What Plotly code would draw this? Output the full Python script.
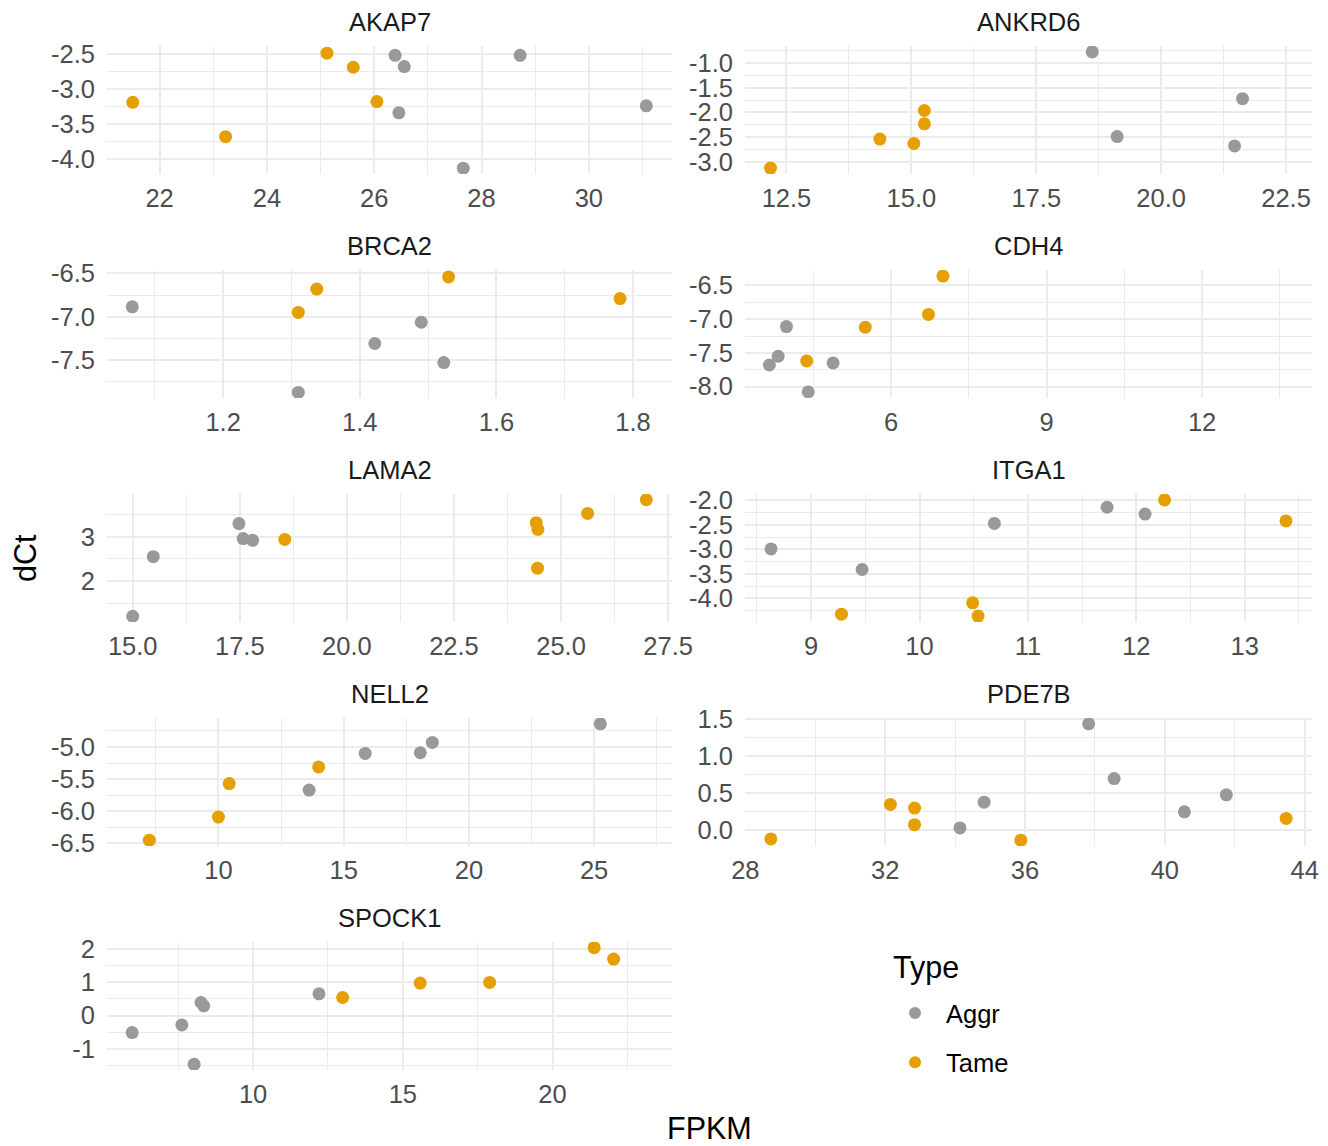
import plotly.graph_objects as go

# FPKM vs dCt for nine genes, coloured by animal type
genes = ["AKAP7", "ANKRD6", "BRCA2", "CDH4", "LAMA2", "ITGA1", "NELL2", "PDE7B", "SPOCK1"]

akap7_fpkm = [21.5, 23.23, 25.12, 25.61, 26.05, 26.39, 26.56, 26.46, 28.72, 31.07, 27.66]
akap7_dct = [-3.19, -3.68, -2.49, -2.69, -3.18, -2.52, -2.68, -3.34, -2.52, -3.24, -4.13]
akap7_type = ["Tame"] * 5 + ["Aggr"] * 6

ankrd6_fpkm = [12.18, 14.37, 15.05, 15.26, 15.26, 18.62, 19.12, 21.47, 21.63]
ankrd6_dct = [-3.13, -2.54, -2.63, -1.96, -2.23, -0.77, -2.49, -2.68, -1.72]
ankrd6_type = ["Tame"] * 5 + ["Aggr"] * 4

brca2_fpkm = [1.067, 1.31, 1.422, 1.49, 1.523, 1.31, 1.337, 1.53, 1.781]
brca2_dct = [-6.886, -7.875, -7.31, -7.064, -7.53, -6.95, -6.68, -6.54, -6.79]
brca2_type = ["Aggr"] * 5 + ["Tame"] * 4

cdh4_fpkm = [3.65, 3.82, 3.98, 4.40, 4.88, 4.37, 5.50, 6.72, 7.0]
cdh4_dct = [-7.68, -7.55, -7.11, -8.08, -7.65, -7.62, -7.12, -6.93, -6.36]
cdh4_type = ["Aggr"] * 5 + ["Tame"] * 4

lama2_fpkm = [15.0, 15.48, 17.48, 17.58, 17.80, 18.55, 24.42, 24.46, 24.45, 25.62, 26.99]
lama2_dct = [1.20, 2.55, 3.30, 2.96, 2.92, 2.94, 3.32, 3.17, 2.29, 3.53, 3.84]
lama2_type = ["Aggr"] * 5 + ["Tame"] * 6

itga1_fpkm = [8.63, 9.47, 10.69, 11.73, 12.08, 9.28, 10.49, 10.54, 12.26, 13.38]
itga1_dct = [-2.99, -3.41, -2.47, -2.14, -2.28, -4.32, -4.09, -4.36, -1.99, -2.42]
itga1_type = ["Aggr"] * 5 + ["Tame"] * 5

nell2_fpkm = [13.62, 15.86, 18.06, 18.54, 25.25, 7.24, 10.0, 10.43, 14.0]
nell2_dct = [-5.67, -5.10, -5.09, -4.93, -4.64, -6.45, -6.09, -5.57, -5.31]
nell2_type = ["Aggr"] * 5 + ["Tame"] * 4

pde7b_fpkm = [34.14, 34.83, 37.82, 38.55, 40.56, 41.76, 28.73, 32.15, 32.84, 32.84, 35.88, 43.47]
pde7b_dct = [0.031, 0.38, 1.44, 0.70, 0.25, 0.48, -0.117, 0.35, 0.30, 0.076, -0.134, 0.16]
pde7b_type = ["Aggr"] * 6 + ["Tame"] * 6

spock1_fpkm = [5.96, 7.62, 8.03, 8.26, 8.35, 12.20, 12.99, 15.58, 17.90, 21.39, 22.04]
spock1_dct = [-0.51, -0.28, -1.46, 0.39, 0.29, 0.65, 0.54, 0.97, 0.99, 2.03, 1.69]
spock1_type = ["Aggr"] * 6 + ["Tame"] * 5

# Tick positions for each facet (free scales)
akap7_xticks, akap7_yticks = [22, 24, 26, 28, 30], [-4.0, -3.5, -3.0, -2.5]
ankrd6_xticks, ankrd6_yticks = [12.5, 15.0, 17.5, 20.0, 22.5], [-3.0, -2.5, -2.0, -1.5, -1.0]
brca2_xticks, brca2_yticks = [1.2, 1.4, 1.6, 1.8], [-7.5, -7.0, -6.5]
cdh4_xticks, cdh4_yticks = [6, 9, 12], [-8.0, -7.5, -7.0, -6.5]
lama2_xticks, lama2_yticks = [15.0, 17.5, 20.0, 22.5, 25.0, 27.5], [2, 3]
itga1_xticks, itga1_yticks = [9, 10, 11, 12, 13], [-4.0, -3.5, -3.0, -2.5, -2.0]
nell2_xticks, nell2_yticks = [10, 15, 20, 25], [-6.5, -6.0, -5.5, -5.0]
pde7b_xticks, pde7b_yticks = [28, 32, 36, 40, 44], [0.0, 0.5, 1.0, 1.5]
spock1_xticks, spock1_yticks = [10, 15, 20], [-1, 0, 1, 2]

panels = [
    (akap7_fpkm, akap7_dct, akap7_type, akap7_xticks, akap7_yticks),
    (ankrd6_fpkm, ankrd6_dct, ankrd6_type, ankrd6_xticks, ankrd6_yticks),
    (brca2_fpkm, brca2_dct, brca2_type, brca2_xticks, brca2_yticks),
    (cdh4_fpkm, cdh4_dct, cdh4_type, cdh4_xticks, cdh4_yticks),
    (lama2_fpkm, lama2_dct, lama2_type, lama2_xticks, lama2_yticks),
    (itga1_fpkm, itga1_dct, itga1_type, itga1_xticks, itga1_yticks),
    (nell2_fpkm, nell2_dct, nell2_type, nell2_xticks, nell2_yticks),
    (pde7b_fpkm, pde7b_dct, pde7b_type, pde7b_xticks, pde7b_yticks),
    (spock1_fpkm, spock1_dct, spock1_type, spock1_xticks, spock1_yticks),
]

# Axis extents per facet (x, y)
x_ranges = [[21.02, 31.55], [11.67, 23.02], [1.030, 1.857], [3.18, 14.12], [14.40, 27.59],
            [8.39, 13.62], [5.55, 28.11], [27.99, 44.21], [5.12, 23.99]]
y_ranges = [[-4.213, -2.387], [-3.25, -0.65], [-7.94, -6.46], [-8.17, -6.27], [1.07, 3.97],
            [-4.48, -1.87], [-6.54, -4.55], [-0.213, 1.519], [-1.63, 2.20]]

type_order = ["Aggr", "Tame"]
type_colors = {"Aggr": "#999999", "Tame": "#E69F00"}

W, H = 1328, 1146
col_px = [(107, 672), (745, 1312)]
row_top0, row_h, row_step = 46, 128, 224

FONT = "Liberation Sans, Arial, Helvetica, sans-serif"
GRID = "#EBEBEB"
SMALL = 25.5
LARGE = 30.5


def fmt(v, ticks):
    # same number of decimals for every label on one axis
    dec = 1 if any(abs(t - round(t)) > 1e-9 for t in ticks) else 0
    return f"{v:.{dec}f}"


fig = go.Figure()
annotations = []

for i, (gene, (fx, dy, tp, xt, yt)) in enumerate(zip(genes, panels)):
    row, col = divmod(i, 2)
    ax = "" if i == 0 else str(i + 1)
    top = row_top0 + row * row_step
    bot = top + row_h
    x0, x1 = col_px[col]
    xdom = [x0 / W, x1 / W]
    ydom = [1 - bot / H, 1 - top / H]

    for t in type_order:
        xs = [x for x, k in zip(fx, tp) if k == t]
        ys = [y for y, k in zip(dy, tp) if k == t]
        fig.add_trace(go.Scatter(
            x=xs, y=ys, mode="markers", name=t, legendgroup=t,
            showlegend=(i == 0),
            marker=dict(size=13, color=type_colors[t], line=dict(width=0)),
            xaxis="x" + ax, yaxis="y" + ax,
        ))

    xstep = xt[1] - xt[0]
    ystep = yt[1] - yt[0]
    common = dict(
        showline=False, zeroline=False, ticks="", showgrid=True,
        gridcolor=GRID, gridwidth=2.2, automargin=False,
        tickfont=dict(family=FONT, size=SMALL, color="#4D4D4D"),
        fixedrange=True,
    )
    fig.update_layout({
        "xaxis" + ax: dict(
            common, domain=xdom, range=x_ranges[i], anchor="y" + ax,
            ticklabelstandoff=6,
            tickmode="array", tickvals=xt, ticktext=[fmt(v, xt) for v in xt],
            minor=dict(tickmode="linear", tick0=xt[0] - xstep / 2, dtick=xstep,
                       showgrid=True, gridcolor=GRID, gridwidth=1.1, ticks=""),
        ),
        "yaxis" + ax: dict(
            common, domain=ydom, range=y_ranges[i], anchor="x" + ax,
            ticklabelstandoff=11,
            tickmode="array", tickvals=yt, ticktext=[fmt(v, yt) for v in yt],
            minor=dict(tickmode="linear", tick0=yt[0] - ystep / 2, dtick=ystep,
                       showgrid=True, gridcolor=GRID, gridwidth=1.1, ticks=""),
        ),
    })

    annotations.append(dict(
        text=gene, xref="paper", yref="paper",
        x=(xdom[0] + xdom[1]) / 2, y=1 - (top - 24) / H,
        xanchor="center", yanchor="middle", showarrow=False,
        font=dict(family=FONT, size=SMALL, color="#1A1A1A"),
    ))

annotations.append(dict(
    text="FPKM", xref="paper", yref="paper", x=709.5 / W, y=1 - 1128 / H,
    xanchor="center", yanchor="middle", showarrow=False,
    font=dict(family=FONT, size=LARGE, color="#000000"),
))
annotations.append(dict(
    text="dCt", xref="paper", yref="paper", x=25 / W, y=1 - 558 / H,
    xanchor="center", yanchor="middle", showarrow=False, textangle=-90,
    font=dict(family=FONT, size=LARGE, color="#000000"),
))
# legend heading
annotations.append(dict(
    text="Type", xref="paper", yref="paper", x=891 / W, y=1 - 967 / H,
    xanchor="left", yanchor="middle", showarrow=False,
    font=dict(family=FONT, size=LARGE, color="#000000"),
))

fig.update_layout(
    width=W, height=H, autosize=False,
    margin=dict(l=0, r=0, t=0, b=0, pad=0, autoexpand=False),
    paper_bgcolor="white", plot_bgcolor="white",
    annotations=annotations,
    showlegend=True,
    legend=dict(
        font=dict(family=FONT, size=SMALL, color="#000000"),
        x=884 / W, y=1 - 990 / H, xanchor="left", yanchor="top",
        tracegroupgap=13, itemwidth=52, itemsizing="constant",
        bgcolor="rgba(0,0,0,0)",
    ),
)

fig.write_html("out.html")
